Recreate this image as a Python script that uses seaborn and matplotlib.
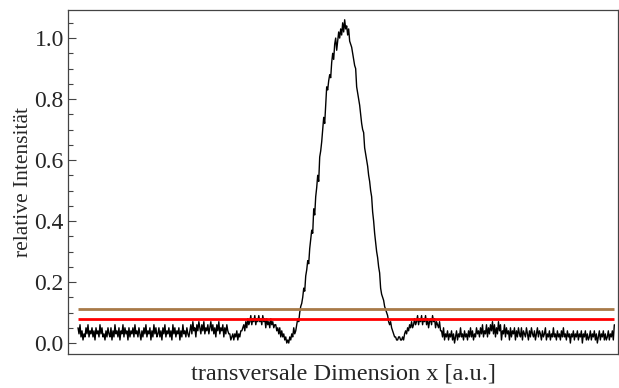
import numpy as np
import matplotlib
matplotlib.use('Agg')
import matplotlib.pyplot as plt
import seaborn as sns
from matplotlib.ticker import MultipleLocator, FormatStrFormatter

# intensity profile, left to right, in segments
baseline_left = [0.05, 0.03, 0.06, 0.02, 0.04, 0.01, 0.03, 0.02, 0.05, 0.03,
                 0.06, 0.02, 0.04, 0.03, 0.05, 0.02, 0.04, 0.01, 0.05, 0.03,
                 0.04, 0.02, 0.06, 0.03, 0.05, 0.02, 0.03, 0.01, 0.04, 0.02,
                 0.05, 0.03, 0.02, 0.05, 0.01, 0.04, 0.02, 0.06, 0.03, 0.04,
                 0.02, 0.05, 0.01, 0.04, 0.03, 0.06, 0.02, 0.05, 0.03, 0.04,
                 0.01, 0.05, 0.02, 0.04, 0.03, 0.05, 0.02, 0.06, 0.03, 0.04,
                 0.02, 0.05, 0.03, 0.01, 0.04, 0.02, 0.05, 0.03, 0.06, 0.02,
                 0.04, 0.03, 0.05, 0.01, 0.04, 0.02, 0.06, 0.03, 0.05, 0.02,
                 0.03, 0.05, 0.02, 0.04, 0.01, 0.05, 0.03, 0.06, 0.02, 0.04,
                 0.03, 0.05, 0.02, 0.04, 0.01, 0.06, 0.03, 0.05, 0.02, 0.04,
                 0.03, 0.05, 0.01, 0.04, 0.02, 0.06, 0.03, 0.04, 0.02, 0.05,
                 0.03, 0.02]
shoulder_left = [0.04, 0.06, 0.03, 0.07, 0.04, 0.05, 0.02, 0.06, 0.04, 0.07,
                 0.05, 0.03, 0.06, 0.04, 0.07, 0.03, 0.05, 0.04, 0.06, 0.03,
                 0.05, 0.07, 0.04, 0.06, 0.03, 0.05, 0.02, 0.06, 0.04, 0.07,
                 0.03, 0.05, 0.04, 0.06, 0.02, 0.05, 0.03, 0.06, 0.04, 0.03]
dip_left = [0.03, 0.01, 0.02, 0.03, 0.01, 0.03, 0.02, 0.04, 0.01, 0.03, 0.02, 0.04]
bump_left = [0.04, 0.05, 0.06, 0.04, 0.07, 0.05, 0.08, 0.06, 0.07, 0.09,
             0.06, 0.08, 0.07, 0.09, 0.06, 0.08, 0.07, 0.09, 0.07, 0.08,
             0.06, 0.09, 0.07, 0.08, 0.05, 0.08, 0.06, 0.07, 0.05, 0.08,
             0.06, 0.07, 0.05, 0.06]
dip_before_peak = [0.06, 0.04, 0.05, 0.03, 0.05, 0.02, 0.04, 0.02, 0.03,
                   0.01, 0.02, 0.00, 0.01, 0.00, 0.02, 0.01, 0.03, 0.02]
peak_rise = [0.05, 0.03, 0.04, 0.06, 0.08, 0.07, 0.10, 0.12, 0.13, 0.15,
             0.18, 0.17, 0.22, 0.24, 0.27, 0.26, 0.31, 0.34, 0.37, 0.36,
             0.44, 0.42, 0.48, 0.51, 0.55, 0.53, 0.61, 0.63, 0.66, 0.70,
             0.74, 0.72, 0.78, 0.84, 0.83, 0.86, 0.88, 0.87, 0.92, 0.95,
             0.93, 0.98, 1.00, 0.96, 0.99, 1.02, 1.00, 1.03, 1.01, 1.05,
             1.02]
peak_fall = [1.06, 1.03, 1.04, 1.01, 1.03, 0.99, 0.98, 0.97, 0.95, 0.93,
             0.91, 0.90, 0.84, 0.82, 0.80, 0.78, 0.75, 0.72, 0.70, 0.69,
             0.64, 0.62, 0.60, 0.58, 0.55, 0.53, 0.50, 0.48, 0.43, 0.40,
             0.36, 0.33, 0.30, 0.28, 0.25, 0.23, 0.18, 0.16, 0.15, 0.14,
             0.12, 0.11, 0.10, 0.09, 0.07, 0.06, 0.07, 0.05, 0.04, 0.03,
             0.02, 0.02, 0.01, 0.01, 0.02, 0.02, 0.01]
bump_right = [0.01, 0.02, 0.01, 0.03, 0.04, 0.03, 0.05, 0.04, 0.06, 0.05,
              0.07, 0.05, 0.06, 0.08, 0.06, 0.07, 0.09, 0.06, 0.08, 0.07,
              0.09, 0.06, 0.08, 0.07, 0.09, 0.06, 0.08, 0.05, 0.07, 0.08,
              0.06, 0.09, 0.07, 0.08, 0.05, 0.07, 0.06, 0.05, 0.07, 0.04]
trough_right = [0.04, 0.02, 0.05, 0.01, 0.03, 0.02, 0.04, 0.01, 0.03, 0.02,
                0.04, 0.01, 0.03, 0.00, 0.02, 0.04, 0.01, 0.03, 0.02, 0.05,
                0.02, 0.03, 0.01, 0.04, 0.02, 0.03, 0.01, 0.04, 0.02, 0.05,
                0.02, 0.04, 0.01, 0.03, 0.02, 0.05, 0.03, 0.04, 0.02, 0.05,
                0.03, 0.06, 0.02, 0.04, 0.03, 0.06, 0.02, 0.05, 0.03, 0.06]
baseline_right = [0.04, 0.07, 0.03, 0.06, 0.02, 0.05, 0.03, 0.07, 0.04, 0.06,
                  0.01, 0.04, 0.03, 0.06, 0.02, 0.05, 0.03, 0.04, 0.01, 0.05,
                  0.02, 0.04, 0.03, 0.05, 0.01, 0.04, 0.02, 0.05, 0.03, 0.02,
                  0.05, 0.01, 0.04, 0.03, 0.02, 0.05, 0.03, 0.01, 0.04, 0.02,
                  0.05, 0.03, 0.02, 0.04, 0.01, 0.03, 0.05, 0.02, 0.04, 0.03,
                  0.01, 0.04, 0.02, 0.03, 0.05, 0.01, 0.03, 0.02, 0.04, 0.01,
                  0.03, 0.02, 0.05, 0.02, 0.03, 0.01, 0.04, 0.02, 0.03, 0.01,
                  0.04, 0.02, 0.05, 0.02, 0.03, 0.01, 0.04, 0.02, 0.03, 0.00,
                  0.03, 0.02, 0.04, 0.01, 0.03, 0.02, 0.04, 0.01, 0.03, 0.02,
                  0.04, 0.00, 0.03, 0.02, 0.04, 0.01, 0.03, 0.01, 0.02, 0.04,
                  0.01, 0.03, 0.02, 0.04, 0.01, 0.03, 0.00, 0.02, 0.04, 0.01,
                  0.03, 0.02, 0.04, 0.01, 0.03, 0.01, 0.02, 0.04, 0.01, 0.03,
                  0.02, 0.04, 0.01, 0.06]

# threshold levels
level_upper = 0.11
level_lower = 0.08

intensity = np.array(baseline_left + shoulder_left + dip_left + bump_left
                     + dip_before_peak + peak_rise + peak_fall + bump_right
                     + trough_right + baseline_right)
x = np.arange(len(intensity))

sns.set_style('ticks')
plt.rcParams['font.family'] = ['Liberation Serif', 'DejaVu Serif']

fig = plt.figure(figsize=(6.19, 3.88), dpi=100)
ax = fig.add_axes([0.1099, 0.0876, 0.889, 0.8866])

sns.lineplot(x=x, y=intensity, ax=ax, color='black', linewidth=1.0)
ax.hlines(level_upper, x[0], x[-1], color='#a87a48', linewidth=2)
ax.hlines(level_lower, x[0], x[-1], color='#ff0000', linewidth=2)

ax.set_xlim(-10, 541)
ax.set_ylim(-0.036, 1.092)
ax.set_xticks([])
ax.yaxis.set_major_locator(MultipleLocator(0.2))
ax.yaxis.set_minor_locator(MultipleLocator(0.05))
ax.yaxis.set_major_formatter(FormatStrFormatter('%.1f'))
ax.tick_params(axis='y', which='major', direction='in', length=6, width=0.8,
               color='#444444', labelsize=17, pad=3)
ax.tick_params(axis='y', which='minor', direction='in', length=3.5, width=0.8,
               color='#444444')
for s in ax.spines.values():
    s.set_color('#444444')
    s.set_linewidth(0.9)

ax.set_xlabel('transversale Dimension x [a.u.]', fontsize=17.5, labelpad=7)
ax.set_ylabel('relative Intensität', fontsize=15.5, labelpad=1)

fig.savefig('out.png', dpi=100)
